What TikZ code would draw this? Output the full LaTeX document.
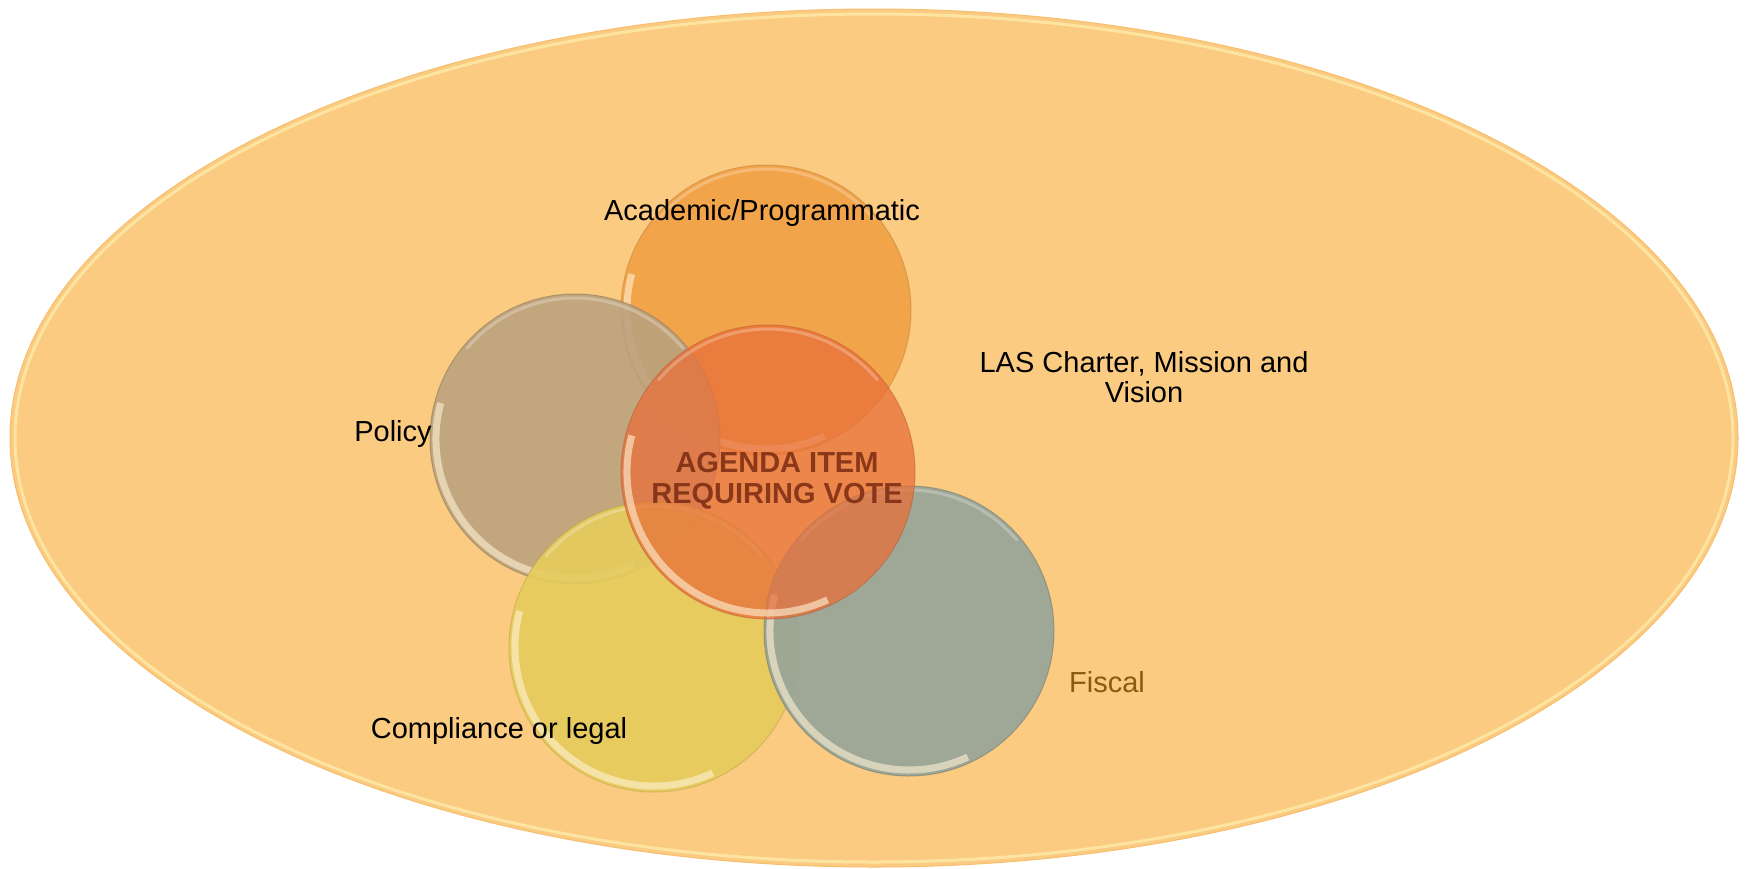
\documentclass[tikz,border=0pt]{standalone}
\usepackage{fontspec}
\setmainfont{Liberation Sans}
\usetikzlibrary{shapes.geometric}
\definecolor{ellfill}{HTML}{FACB80}
\definecolor{ellrimc}{HTML}{FFF6B8}
\definecolor{ellline}{HTML}{F6BE6E}
\definecolor{acadc}{HTML}{F2A046}
\definecolor{polc}{HTML}{BBA27E}
\definecolor{compc}{HTML}{E6CC5C}
\definecolor{fiscc}{HTML}{96A49A}
\definecolor{ctrc}{HTML}{E8703A}
\definecolor{rimc}{HTML}{FFF2D6}
\definecolor{votec}{HTML}{7A2A12}
\definecolor{fisct}{HTML}{8A5A12}
\begin{document}
\begin{tikzpicture}[x=1pt,y=-1pt,
  bubble/.style={circle, minimum size=290pt, inner sep=0pt, fill opacity=0.9, draw opacity=0.5, line width=1pt},
  rim/.style={line width=7pt, draw=rimc, draw opacity=0.6},
  gloss/.style={line width=3pt, draw=white, draw opacity=0.25, line cap=round},
  lbl/.style={font=\fontsize{29}{30}\selectfont, inner sep=0pt, anchor=base, align=center}]
\useasboundingbox (0,0) rectangle (1747,868);
% outer ellipse
\node[ellipse, minimum width=1728pt, minimum height=858pt, inner sep=0pt, fill=ellfill, draw=ellline, line width=1pt] (E) at (874,438) {};
\draw[ellrimc, line width=3pt, draw opacity=0.6] (E.center) ellipse [x radius=859pt, y radius=424pt];
% bubbles
\node[bubble, fill=acadc, draw=acadc!80!black] (acad) at (766,310) {};
\draw[rim] ([shift={(165:139pt)}]acad.center) arc[start angle=165, end angle=295, radius=139pt];
\draw[gloss] ([shift={(40:141pt)}]acad.center) arc[start angle=40, end angle=140, radius=141pt];
\node[bubble, fill=polc, draw=polc!70!black] (pol) at (575,439) {};
\draw[rim] ([shift={(165:139pt)}]pol.center) arc[start angle=165, end angle=295, radius=139pt];
\draw[gloss] ([shift={(40:141pt)}]pol.center) arc[start angle=40, end angle=140, radius=141pt];
\node[bubble, fill=compc, draw=compc!80!black] (comp) at (654,647) {};
\draw[rim] ([shift={(165:139pt)}]comp.center) arc[start angle=165, end angle=295, radius=139pt];
\draw[gloss] ([shift={(40:141pt)}]comp.center) arc[start angle=40, end angle=140, radius=141pt];
\node[bubble, fill=fiscc, draw=fiscc!70!black] (fisc) at (909,631) {};
\draw[rim] ([shift={(165:139pt)}]fisc.center) arc[start angle=165, end angle=295, radius=139pt];
\draw[gloss] ([shift={(40:141pt)}]fisc.center) arc[start angle=40, end angle=140, radius=141pt];
\node[bubble, minimum size=294pt, fill=ctrc, fill opacity=0.75, draw=ctrc!80!black] (ctr) at (768,472) {};
\draw[rim] ([shift={(165:141pt)}]ctr.center) arc[start angle=165, end angle=295, radius=141pt];
\draw[gloss] ([shift={(40:143pt)}]ctr.center) arc[start angle=40, end angle=140, radius=143pt];
% labels
\node[lbl] (tacad) at (762,220) {Academic/Programmatic};
\node[lbl] (tpol) at (393,441) {Policy};
\node[lbl] (tlas) at (1144,402) {LAS Charter, Mission and\\Vision};
\node[lbl, font=\fontsize{29}{31}\bfseries, text=votec, text opacity=0.85] (tvote) at (777,503) {AGENDA ITEM\\REQUIRING VOTE};
\node[lbl, text=fisct] (tfisc) at (1107,692) {Fiscal};
\node[lbl] (tcomp) at (499,738) {Compliance or legal};
\end{tikzpicture}
\end{document}
